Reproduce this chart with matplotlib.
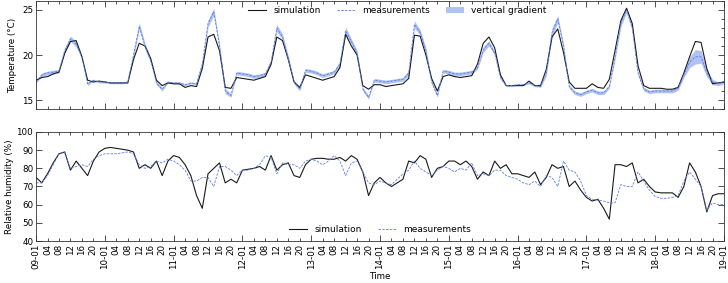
import matplotlib
matplotlib.use('Agg')
import matplotlib.pyplot as plt
import matplotlib.dates as mdates
import pandas as pd

# 2-hourly samples, 09-01 00:00 to 19-01 00:00
times = pd.date_range('2019-01-09', periods=121, freq='2h')

temp_sim = [
    17.2, 17.5, 17.6, 17.9, 18.1, 20.2, 21.5, 21.6, 19.8, 17.2, 17.0, 17.1,
    17.0, 16.9, 16.9, 16.9, 16.9, 19.5, 21.3, 21.0, 19.6, 17.2, 16.6, 16.9,
    16.8, 16.8, 16.4, 16.6, 16.5, 18.5, 22.0, 22.3, 20.5, 16.4, 16.3, 17.5,
    17.4, 17.3, 17.2, 17.4, 17.6, 19.0, 22.0, 21.6, 19.5, 17.0, 16.4, 17.8,
    17.6, 17.4, 17.2, 17.4, 17.6, 18.6, 22.3, 21.0, 20.0, 16.6, 16.2, 16.7,
    16.7, 16.5, 16.6, 16.7, 16.8, 17.4, 22.2, 22.1, 20.0, 17.4, 16.0, 17.6,
    17.8, 17.6, 17.5, 17.6, 17.7, 19.0, 21.3, 22.0, 20.8, 17.8, 16.6, 16.6,
    16.6, 16.6, 17.1, 16.6, 16.6, 18.4, 22.0, 22.9, 20.3, 17.0, 16.3, 16.3,
    16.3, 16.8, 16.4, 16.3, 17.3, 20.5, 23.8, 25.2, 23.5, 18.8, 16.6, 16.3,
    16.3, 16.3, 16.2, 16.2, 16.4, 18.0, 19.8, 21.5, 21.4, 18.5, 16.8, 16.9, 17.0,
]

temp_meas = [
    17.0, 17.8, 18.0, 18.1, 18.2, 20.5, 21.8, 21.2, 19.8, 16.8, 17.2, 17.0,
    17.0, 16.9, 16.9, 16.9, 17.0, 20.0, 23.2, 21.0, 19.4, 16.9, 16.2, 17.0,
    16.9, 16.9, 16.7, 16.9, 16.8, 19.0, 23.5, 24.8, 21.0, 16.0, 15.5, 18.0,
    17.9, 17.8, 17.6, 17.7, 17.9, 19.2, 23.0, 22.0, 19.6, 17.0, 16.2, 18.3,
    18.2, 18.0, 17.7, 17.9, 18.1, 19.0, 22.7, 21.5, 20.2, 16.2, 15.3, 17.2,
    17.1, 17.0, 17.1, 17.2, 17.3, 18.0, 23.4, 22.5, 20.5, 17.0, 15.5, 18.2,
    18.1, 17.9, 17.9, 18.0, 18.1, 18.6, 20.6, 21.3, 20.2, 17.5, 16.6, 16.6,
    16.7, 16.7, 16.9, 16.6, 16.5, 18.0, 22.5, 24.0, 21.0, 16.5, 15.8, 15.6,
    15.9, 16.1, 15.8, 15.8, 16.5, 19.8, 23.5, 25.0, 23.0, 18.0, 16.2, 15.9,
    16.0, 16.0, 16.0, 16.0, 16.3, 17.8, 19.2, 19.8, 19.8, 18.0, 17.0, 16.8, 17.0,
]

# half spread between sensor heights
temp_grad = [
    0.1, 0.2, 0.2, 0.2, 0.2, 0.3, 0.3, 0.3, 0.2, 0.2, 0.1, 0.1,
    0.1, 0.1, 0.1, 0.1, 0.1, 0.3, 0.4, 0.3, 0.3, 0.2, 0.2, 0.1,
    0.1, 0.1, 0.1, 0.1, 0.1, 0.3, 0.4, 0.4, 0.3, 0.3, 0.2, 0.2,
    0.2, 0.2, 0.2, 0.2, 0.2, 0.3, 0.4, 0.3, 0.3, 0.2, 0.2, 0.2,
    0.2, 0.2, 0.2, 0.2, 0.2, 0.3, 0.4, 0.3, 0.3, 0.2, 0.2, 0.2,
    0.2, 0.2, 0.2, 0.2, 0.2, 0.3, 0.4, 0.3, 0.3, 0.2, 0.2, 0.2,
    0.2, 0.2, 0.2, 0.2, 0.2, 0.2, 0.3, 0.3, 0.2, 0.2, 0.1, 0.1,
    0.1, 0.1, 0.1, 0.1, 0.1, 0.3, 0.5, 0.4, 0.3, 0.2, 0.2, 0.2,
    0.2, 0.2, 0.2, 0.2, 0.2, 0.3, 0.4, 0.3, 0.3, 0.2, 0.2, 0.2,
    0.2, 0.2, 0.2, 0.2, 0.2, 0.3, 0.6, 0.8, 0.7, 0.4, 0.3, 0.2, 0.2,
]

rh_sim = [
    75, 72, 77, 83, 88, 89, 79, 84, 80, 76, 84, 89,
    91, 91.5, 91, 90.5, 90, 89, 80, 82, 80, 84, 76, 84,
    87, 86, 82, 76, 65, 58, 77, 80, 83, 72, 74, 72,
    79, 79.5, 80, 81, 79, 87, 79, 82, 83, 76, 75, 82,
    85, 85.5, 85.5, 85, 85, 86, 84, 87, 85, 78, 65, 72,
    75, 72, 70, 72, 74, 84, 83, 87, 85, 75, 80, 81,
    84, 84, 82, 84, 81, 74, 78, 76, 84, 80, 82, 77,
    77, 76, 75, 78, 71, 75, 82, 80, 81, 70, 73, 68,
    64, 62, 63, 58, 52, 82, 82, 81, 83, 72, 74, 70,
    67, 66.5, 66.5, 66.5, 64, 70, 83, 78, 70, 56, 65, 66, 66,
]

rh_meas = [
    72, 72, 76, 82, 88, 89, 80, 81, 82, 81, 85, 87,
    88, 88, 88, 88.5, 89, 88, 82, 80, 81, 84, 83, 85,
    84, 82, 79, 73, 73, 75, 75, 70, 81, 81, 79, 76,
    79, 79, 80, 82, 87, 86, 77, 83, 82, 82, 80, 84,
    85, 84, 82, 84, 87, 84, 76, 83, 84, 78, 72, 71,
    73, 72, 71, 74, 77, 79, 84, 80, 78, 76, 79, 81,
    80, 78, 80, 79, 83, 76, 77, 76, 79, 79, 76, 75,
    74, 72, 71, 73, 70, 76, 75, 70, 84, 79, 78, 73,
    65, 63, 62.5, 62, 61, 61, 71, 70, 70, 78, 73, 68,
    64.5, 63.5, 63.5, 64, 65, 73, 78, 74, 70, 57, 61, 60, 60,
]

plt.rcParams['font.family'] = 'DejaVu Sans'
plt.rcParams['font.size'] = 6.3

sim_color = '#1a1a1a'
meas_color = '#5a7ee6'
band_color = '#b0c2f2'

fig = plt.figure(figsize=(7.28, 2.83), dpi=100)
ax1 = fig.add_axes([0.0495, 0.6148, 0.945, 0.3817])
ax2 = fig.add_axes([0.0495, 0.1484, 0.945, 0.3852])

lo = [m - g for m, g in zip(temp_meas, temp_grad)]
hi = [m + g for m, g in zip(temp_meas, temp_grad)]

ax1.fill_between(times, lo, hi, color=band_color, lw=0, label='vertical gradient')
ax1.plot(times, temp_sim, color=sim_color, lw=0.8, label='simulation')
ax1.plot(times, temp_meas, color=meas_color, lw=0.6, ls='--', dashes=(3, 1.5), label='measurements')
ax1.set_ylim(14, 26)
ax1.set_yticks([15, 20, 25])
ax1.set_ylabel('Temperature (°C)', labelpad=4)

ax2.plot(times, rh_sim, color=sim_color, lw=0.8, label='simulation')
ax2.plot(times, rh_meas, color=meas_color, lw=0.6, ls='--', dashes=(3, 1.5), label='measurements')
ax2.set_ylim(40, 100)
ax2.set_yticks(range(40, 101, 10))
ax2.set_ylabel('Relative humidity (%)', labelpad=2)
ax2.set_xlabel('Time', labelpad=2)

for ax in (ax1, ax2):
    ax.set_xlim(times[0], times[-1])
    ax.xaxis.set_major_locator(mdates.DayLocator())
    ax.xaxis.set_minor_locator(mdates.HourLocator(byhour=[4, 8, 12, 16, 20]))
    ax.xaxis.set_major_formatter(mdates.DateFormatter('%d-%m'))
    ax.xaxis.set_minor_formatter(mdates.DateFormatter('%H'))
    ax.tick_params(which='both', direction='in', top=True, right=True, width=0.6, color='#333333')
    ax.tick_params(which='major', length=4, pad=2)
    ax.tick_params(which='minor', length=2.5, pad=2)
    for s in ax.spines.values():
        s.set_linewidth(0.6)
        s.set_color('#333333')

ax1.yaxis.set_minor_locator(matplotlib.ticker.MultipleLocator(1))
ax1.tick_params(axis='y', which='minor', left=False, right=True, length=2.5)
ax1.tick_params(axis='x', which='both', labelbottom=False)
ax2.tick_params(axis='x', which='both', labelrotation=90, labelsize=6.3)

h, l = ax1.get_legend_handles_labels()
order = [1, 2, 0]
ax1.legend([h[i] for i in order], [l[i] for i in order], loc='upper center',
           bbox_to_anchor=(0.525, 1.0), ncol=3, frameon=False, fontsize=6.5,
           borderaxespad=0.2, columnspacing=1.8, handlelength=2.0)
ax2.legend(loc='lower center', ncol=2, frameon=False, fontsize=6.5, borderaxespad=0.4,
           columnspacing=1.8, handlelength=2.0)

fig.savefig('out.png', dpi=100)
